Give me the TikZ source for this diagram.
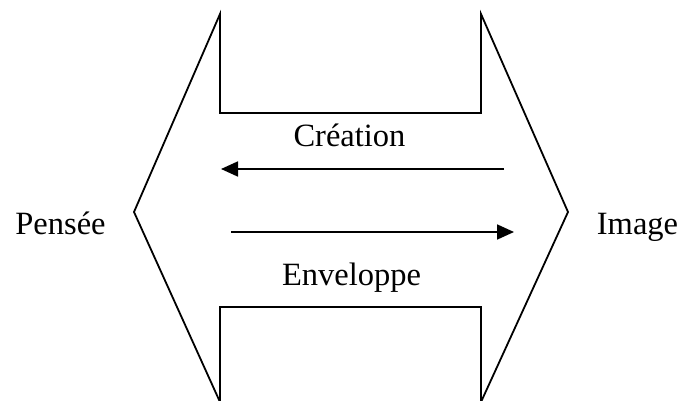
\documentclass[tikz,border=0pt]{standalone}
\usepackage{fontspec}
\setmainfont{Liberation Serif}
\usetikzlibrary{arrows.meta}
\begin{document}
\begin{tikzpicture}[x=1pt,y=-1pt,
  outline/.style={line width=1.8pt,line join=miter},
  flow/.style={line width=1.8pt,-{Triangle[length=17pt,width=15pt]}},
  lbl/.style={anchor=base,inner sep=0pt,font=\fontsize{32.5}{38}\selectfont}]
  \useasboundingbox (0,0) rectangle (683,401);
  % double-headed outline: notched top and bottom, pointed ends
  \draw[outline] (220,402) -- (134,212) -- (220,14) -- (220,113) -- (481,113)
        -- (481,14) -- (568,212) -- (481,402);
  \draw[outline] (220,402) -- (220,307) -- (481,307) -- (481,402);
  % labels
  \node[lbl] (pensee) at (60.5,234) {Pensée};
  \node[lbl] (image) at (637.5,234) {Image};
  \node[lbl] (creation) at (349.5,147) {Création};
  \node[lbl] (enveloppe) at (351.5,285) {Enveloppe};
  % arrow end points
  \coordinate (c1) at (504,169);
  \coordinate (c2) at (221,169);
  \coordinate (e1) at (231,232);
  \coordinate (e2) at (514,232);
  \draw[flow] (c1) -- (c2);
  \draw[flow] (e1) -- (e2);
\end{tikzpicture}
\end{document}
